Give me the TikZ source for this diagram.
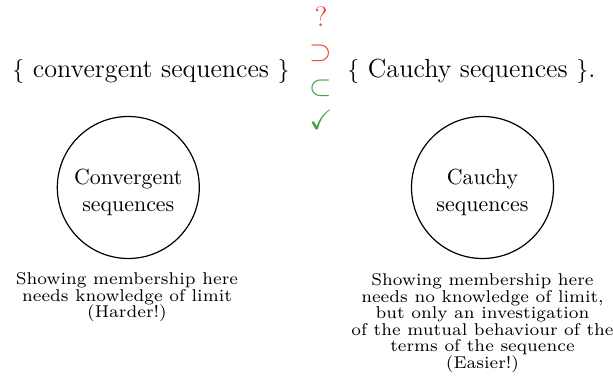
\documentclass[tikz,border=0pt]{standalone}
\usepackage{amssymb}
\usepackage{graphicx}
\definecolor{myred}{RGB}{240,70,60}
\definecolor{mygreen}{RGB}{70,160,70}
\newcommand\remarktext[2]{\scalebox{1.22}{\parbox[t]{160pt}{\centering\fontsize{7}{6.75}\selectfont\lineskiplimit=-20pt\lineskip=0pt #2\par}}}
\begin{document}
\begin{tikzpicture}[x=0.5pt,y=-0.5pt,
  bigtext/.style={inner sep=0pt,font=\fontsize{13.1}{16}\selectfont},
  symb/.style={inner sep=0pt,font=\fontsize{14}{16}\selectfont},
  setcircle/.style={draw,circle,minimum size=71pt,inner sep=0pt,line width=0.6pt},
  circletext/.style={inner sep=0pt,align=center,font=\fontsize{10.95}{13.85}\selectfont},
  remark/.style={inner sep=0pt,anchor=base}]
\useasboundingbox (0,0) rectangle (613,383);
% top line
\node[bigtext,anchor=base east] (conv) at (290,78) {$\{$ convergent sequences $\}$};
\node[bigtext,anchor=base west] (cauchy) at (347,78) {$\{$ Cauchy sequences $\}$.};
\node[symb,anchor=base,text=myred] (q) at (321,27) {?};
\node[symb,anchor=base,text=myred] (sup) at (321,61) {$\supset$};
\node[symb,anchor=base,text=mygreen] (sub) at (321,96) {$\subset$};
\node[symb,anchor=base,text=mygreen] (chk) at (321,130) {$\checkmark$};
% circles
\node[setcircle] (lc) at (128.3,187.5) {};
\node[setcircle] (rc) at (482.5,187.5) {};
\node[circletext] (lct) at ([yshift=-2.5pt]lc.center) {Convergent\\sequences};
\node[circletext] (rct) at ([yshift=-2.5pt]rc.center) {Cauchy\\sequences};
% remarks
\node[remark] (lt) at (127,285) {\remarktext{}{Showing membership here\\needs knowledge of limit\\(Harder!)}};
\node[remark] (rt) at (482.5,286) {\remarktext{}{Showing membership here\\needs no knowledge of limit,\\but only an investigation\\of the mutual behaviour of the\\terms of the sequence\\(Easier!)}};
\end{tikzpicture}
\end{document}
